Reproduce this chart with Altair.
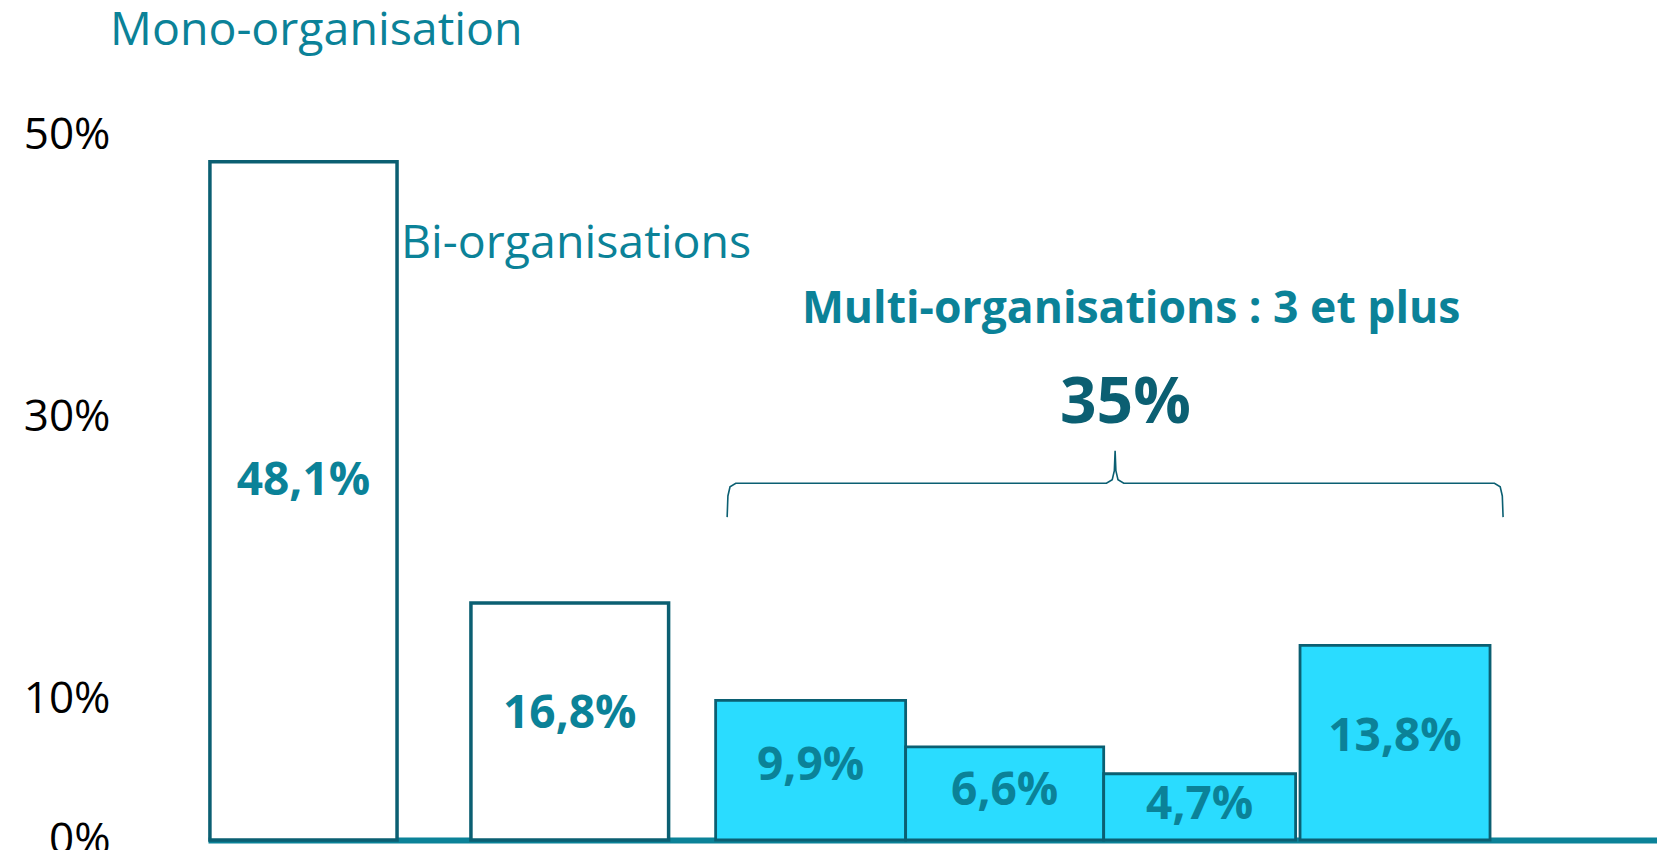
import altair as alt
import pandas as pd

# ---- data ----
values = [48.1, 16.8, 9.9, 6.6, 4.7, 13.8]
groups = ["Mono", "Bi", "Multi", "Multi", "Multi", "Multi"]
n_orgs = ["1", "2", "3", "4", "5", "6 et plus"]
group_titles = ["Mono-organisation", "Bi-organisations", "Multi-organisations : 3 et plus"]
y_ticks = [0, 10, 30, 50]

# ---- layout (x in bar-width units, y in % units) ----
bar_start = [0.01, 1.37, 2.645, 3.635, 4.667, 5.69]
bar_end = [0.985, 2.40, 3.635, 4.667, 5.667, 6.68]
X_MAX = 7.55
Y_MAX = 50
LABEL_POS = 0.53  # value labels sit slightly above the bar middle

TEAL = "#0b8298"
DARK = "#0b5f72"
CYAN = "#2adcff"
FONT = "Open Sans"


def fr(v):
    return f"{v:.1f}".replace(".", ",") + "%"


bars = pd.DataFrame({
    "n": n_orgs,
    "group": groups,
    "value": values,
    "x0": bar_start,
    "x1": bar_end,
})
bars["xm"] = (bars["x0"] + bars["x1"]) / 2
bars["ym"] = bars["value"] * LABEL_POS
bars["label"] = [fr(v) for v in values]
bars["sw"] = [3.5 if g != "Multi" else 2.8 for g in groups]

multi_total = sum(v for v, g in zip(values, groups) if g == "Multi")

xs = alt.Scale(domain=[0, X_MAX], nice=False, zero=False)
ys = alt.Scale(domain=[0, Y_MAX], nice=False)

base = alt.Chart(bars)

rects = base.mark_rect(stroke=DARK).encode(
    x=alt.X("x0:Q", scale=xs,
            axis=alt.Axis(labels=False, ticks=False, grid=False, title=None,
                          domainColor=TEAL, domainWidth=6)),
    x2="x1:Q",
    y=alt.Y("value:Q", scale=ys,
            axis=alt.Axis(values=y_ticks, labelExpr="datum.value + '%'",
                          labelFont=FONT, labelFontSize=44, labelColor="#000000",
                          labelPadding=98, ticks=False, domain=False, grid=False,
                          title=None, labelFlush=False, labelBaseline="middle")),
    y2=alt.datum(0),
    fill=alt.Fill("group:N", scale=alt.Scale(domain=["Mono", "Bi", "Multi"],
                                             range=["#ffffff", "#ffffff", CYAN]),
                  legend=None),
    strokeWidth=alt.StrokeWidth("sw:Q", scale=None, legend=None),
)

value_text = base.mark_text(font=FONT, fontSize=46, fontWeight="bold",
                            color=TEAL, baseline="middle", align="center").encode(
    x=alt.X("xm:Q", scale=xs),
    y=alt.Y("ym:Q", scale=ys),
    text="label:N",
)

# group titles
titles = pd.DataFrame({
    "t": group_titles,
    "x": [-0.51, 1.006, 4.81],
    "y": [56.4, 41.3, 36.7],
})
mono_bi = alt.Chart(titles.iloc[:2]).mark_text(
    font=FONT, fontSize=46.5, color=TEAL, align="left", baseline="alphabetic"
).encode(x=alt.X("x:Q", scale=xs), y=alt.Y("y:Q", scale=ys), text="t:N")
multi = alt.Chart(titles.iloc[2:]).mark_text(
    font=FONT, fontSize=44.5, fontWeight="bold", color=TEAL, align="center",
    baseline="alphabetic"
).encode(x=alt.X("x:Q", scale=xs), y=alt.Y("y:Q", scale=ys), text="t:N")

# brace over the multi group
bl, br = 2.705, 6.748
bm = (bl + br) / 2
y_end, y_bar, y_peak = 22.9, 25.3, 27.6
half = [(bl, y_end), (bl + 0.004, y_bar - 0.9), (bl + 0.015, y_bar - 0.25),
        (bl + 0.045, y_bar), (bm - 0.045, y_bar), (bm - 0.015, y_bar + 0.25),
        (bm - 0.004, y_bar + 0.9), (bm, y_peak)]
pts = half + [(2 * bm - x, y) for x, y in reversed(half[:-1])]
brace_df = pd.DataFrame({"bx": [p[0] for p in pts], "by": [p[1] for p in pts],
                         "o": list(range(len(pts)))})
brace = alt.Chart(brace_df).mark_line(color=DARK, strokeWidth=1.6).encode(
    x=alt.X("bx:Q", scale=xs), y=alt.Y("by:Q", scale=ys), order="o:Q")

total_df = pd.DataFrame({"t": [f"{round(multi_total)}%"], "x": [4.78], "y": [29.6]})
total = alt.Chart(total_df).mark_text(
    font=FONT, fontSize=64, fontWeight="bold", color=DARK, align="center",
    baseline="alphabetic"
).encode(x=alt.X("x:Q", scale=xs), y=alt.Y("y:Q", scale=ys), text="t:N")

chart = alt.layer(rects, value_text, mono_bi, multi, brace, total).properties(
    width=1449, height=705,
    autosize=alt.AutoSizeParams(type="none"),
    padding={"left": 200, "top": 127, "right": 0, "bottom": 10},
).configure_view(stroke=None)

chart.save("out.html", embed_options={"renderer": "svg", "actions": False})
